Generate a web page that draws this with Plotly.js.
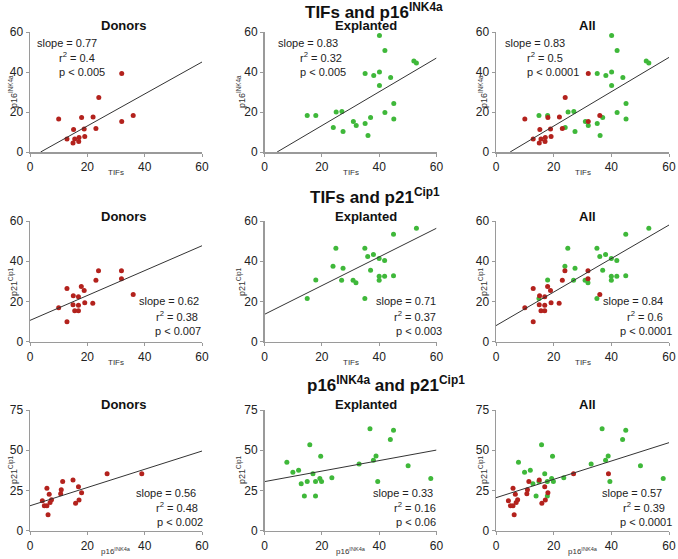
<!DOCTYPE html>
<html>
<head>
<meta charset="utf-8">
<script src="https://cdn.plot.ly/plotly-3.0.1.min.js"></script>
<style>html,body{margin:0;padding:0;background:#fff;}#chart{width:678px;height:559px;}</style>
</head>
<body>
<div id="chart"></div>
<script>
// ---- Row 1: TIFs vs p16INK4a ----
var donorTifs1 = [10, 12.9, 15.2, 15, 15.6, 17.1, 17, 18, 18.9, 19.1, 22, 23, 24, 32, 32, 36];
var donorP16_1 = [16.5, 6.5, 11.2, 4.5, 6.5, 7.3, 5.2, 17.3, 11.5, 7.8, 17.5, 11.8, 27.3, 39.3, 15.3, 18.3];
var explTifs1 = [14.9, 17.9, 24, 25, 27, 27.4, 31, 32, 35.1, 35.1, 36.1, 37, 38.1, 40.1, 40.1, 40.1, 42, 42, 44, 45.1, 45.1, 52.1, 53];
var explP16_1 = [18.3, 18.3, 12.3, 20, 20.3, 10.3, 15.3, 13.3, 14.3, 39.3, 8.3, 17.3, 38.3, 58.3, 40, 33.3, 50.7, 19.7, 37.3, 24.2, 16.5, 45.5, 44.5];

// ---- Row 2: TIFs vs p21Cip1 ----
var donorTifs2 = [10, 12.9, 12.9, 15.1, 15, 15.6, 16.9, 16.9, 16.9, 17.9, 18.9, 19.1, 21.9, 23, 23.9, 31.9, 31.9, 36];
var donorP21_2 = [16.9, 26.5, 9.9, 22.9, 18.4, 15.4, 22.4, 18.1, 15.4, 27.5, 25.5, 19.4, 19.1, 30.5, 35.3, 35.3, 31.3, 23.5];
var explTifs2 = [14.9, 17.9, 23.9, 24.9, 27.4, 26.9, 30.9, 31.9, 35, 35, 36, 37, 38, 40, 40, 40, 41.9, 41.9, 45, 45, 53];
var explP21_2 = [21.5, 30.7, 37.5, 46.4, 36.5, 30.5, 30.5, 29.3, 46.4, 21.5, 42.4, 35.5, 43.4, 41.4, 32.5, 30.5, 40.4, 32.5, 53.4, 32.8, 56.4];

// ---- Row 3: p16INK4a vs p21Cip1 ----
var donorP16_3 = [4.3, 5, 5.9, 5.9, 6.3, 6.7, 7, 7.5, 10.7, 10.9, 11.4, 15, 15.9, 16.9, 17.1, 18, 26.9, 39];
var donorP21_3 = [18.6, 15.5, 15.5, 26.3, 9.9, 22.6, 17.6, 19.3, 23, 25.5, 30.5, 31.5, 17, 27.3, 19.1, 23.6, 35.4, 35.4];
var explP16_3 = [7.8, 9.9, 11.9, 12.8, 13.9, 14.9, 15.8, 16.9, 17.8, 17.8, 19.3, 19.6, 19.9, 23.5, 33, 36.8, 38, 38.9, 39.5, 43.9, 45, 50.1, 58];
var explP21_3 = [42.5, 36.3, 37.5, 29.2, 21.5, 30.5, 53.4, 35.4, 30.5, 21.5, 32.5, 46.2, 30.5, 32.9, 41.4, 63.4, 43.7, 46.4, 30.5, 56.6, 62.4, 40.4, 32.5];

// ---- Regression lines (endpoints) ----
var fitX = [[3.7, 60], [4.4, 60], [4.9, 60], [0, 60], [0, 60], [0, 60], [0, 60], [0, 60], [0, 60]];
var fitY = [[0, 45], [0, 47], [0, 47.3], [10.6, 47.7], [13.6, 56.4], [8, 58], [15.5, 49.5], [30.5, 50.1], [20.5, 54.7]];

// ---- Stats text ----
var slopes = ["0.77", "0.83", "0.83", "0.62", "0.71", "0.84", "0.56", "0.33", "0.57"];
var rsq = ["0.4", "0.32", "0.5", "0.38", "0.37", "0.6", "0.48", "0.16", "0.39"];
var pvals = ["0.005", "0.005", "0.0001", "0.007", "0.003", "0.0001", "0.002", "0.06", "0.0001"];

var mainTitles = ["TIFs and p16<sup>INK4a</sup>", "TIFs and p21<sup>Cip1</sup>", "p16<sup>INK4a</sup> and p21<sup>Cip1</sup>"];
var subTitles = ["Donors", "Explanted", "All"];
var xTitles = ["TIFs", "TIFs", "p16<sup>INK4a</sup>"];
var yTitles = ["p16<sup>INK4a</sup>", "p21<sup>Cip1</sup>", "p21<sup>Cip1</sup>"];
var yMax = [60, 60, 75];
var yTicks = [[0, 20, 40, 60], [0, 20, 40, 60], [0, 25, 50, 75]];
var xTicks = [0, 20, 40, 60];

var W = 678, H = 559;
var RED = '#b3221d', GREEN = '#3fb83a';
var FONT = 'Liberation Sans, Arial, sans-serif';

// panel geometry in pixels
var colX = [[30, 202], [264.5, 436.5], [496, 669]];
var rowY = [[32, 152], [221, 341.7], [410, 530.7]];
function fx(p) { return p / W; }
function fy(p) { return 1 - p / H; }

var rowsData = [
  [[donorTifs1, donorP16_1], [explTifs1, explP16_1]],
  [[donorTifs2, donorP21_2], [explTifs2, explP21_2]],
  [[donorP16_3, donorP21_3], [explP16_3, explP21_3]]
];

var traces = [];
var layout = {
  width: W, height: H,
  margin: {l: 0, r: 0, t: 0, b: 0},
  paper_bgcolor: '#fff', plot_bgcolor: '#fff',
  showlegend: false,
  font: {family: FONT, color: '#222'},
  annotations: []
};

for (var r = 0; r < 3; r++) {
  for (var c = 0; c < 3; c++) {
    var idx = r * 3 + c + 1;
    var xa = 'x' + (idx === 1 ? '' : idx), ya = 'y' + (idx === 1 ? '' : idx);
    var sets = [];
    if (c === 0) sets = [[rowsData[r][0], RED]];
    else if (c === 1) sets = [[rowsData[r][1], GREEN]];
    else sets = [[rowsData[r][1], GREEN], [rowsData[r][0], RED]];
    sets.forEach(function (s) {
      traces.push({type: 'scatter', mode: 'markers', x: s[0][0], y: s[0][1], xaxis: xa, yaxis: ya,
        marker: {color: s[1], size: 5}, cliponaxis: false, hoverinfo: 'skip'});
    });
    traces.push({type: 'scatter', mode: 'lines', x: fitX[idx - 1], y: fitY[idx - 1], xaxis: xa, yaxis: ya,
      line: {color: '#333', width: 1}, hoverinfo: 'skip'});
    var axBase = {showgrid: false, zeroline: false, showline: true, linecolor: '#9a9a9a', linewidth: 1.5,
      ticks: 'outside', ticklen: 3, tickcolor: '#9a9a9a', tickfont: {size: 12, color: '#222'}, fixedrange: true};
    layout['xaxis' + (idx === 1 ? '' : idx)] = Object.assign({}, axBase, {
      domain: [fx(colX[c][0]), fx(colX[c][1])], range: [0, 60], tickvals: xTicks, anchor: ya
    });
    layout['yaxis' + (idx === 1 ? '' : idx)] = Object.assign({}, axBase, {
      domain: [fy(rowY[r][1]), fy(rowY[r][0])], range: [0, yMax[r]], tickvals: yTicks[r], anchor: xa
    });
  }
}

// axis titles as annotations
var xTitleY = [173, 362, 551];
var yTitleY = [92, 282, 470];
var yTitleX = [13, 241, 483];
for (var ra = 0; ra < 3; ra++) {
  for (var ca = 0; ca < 3; ca++) {
    layout.annotations.push({text: xTitles[ra], xref: 'paper', yref: 'paper', x: fx((colX[ca][0] + colX[ca][1]) / 2), y: fy(xTitleY[ra]),
      xanchor: 'center', yanchor: 'middle', showarrow: false, font: {size: 8, color: '#333', family: FONT}});
    layout.annotations.push({text: yTitles[ra], xref: 'paper', yref: 'paper', x: fx(yTitleX[ca]), y: fy(yTitleY[ra]),
      xanchor: 'center', yanchor: 'middle', textangle: -90, showarrow: false, font: {size: 9, color: '#333', family: FONT}});
  }
}

// main titles
var mainPos = [[374, 11], [375, 196], [386, 384]];
mainTitles.forEach(function (t, i) {
  layout.annotations.push({text: t, xref: 'paper', yref: 'paper', x: fx(mainPos[i][0]), y: fy(mainPos[i][1]),
    xanchor: 'center', yanchor: 'middle', showarrow: false, font: {size: 17, color: '#111', family: FONT, weight: 'bold'}});
});
// subtitles
var subX = [124, 366, 587];
var subY = [26, 216, 404];
for (var r2 = 0; r2 < 3; r2++) {
  for (var c2 = 0; c2 < 3; c2++) {
    layout.annotations.push({text: '<b>' + subTitles[c2] + '</b>', xref: 'paper', yref: 'paper', x: fx(subX[c2]), y: fy(subY[r2]),
      xanchor: 'center', yanchor: 'middle', showarrow: false, font: {size: 13, color: '#111', family: FONT}});
  }
}
// stats
var statFont = {size: 11, color: '#222', family: FONT};
// row 1: left
var row1Slope = [35, 276, 503], row1Rest = [57, 298, 525];
for (var k = 0; k < 3; k++) {
  layout.annotations.push({text: 'slope = ' + slopes[k], xref: 'paper', yref: 'paper', x: fx(row1Slope[k]), y: fy(43), xanchor: 'left', yanchor: 'middle', showarrow: false, font: statFont});
  layout.annotations.push({text: 'r<sup>2</sup> = ' + rsq[k], xref: 'paper', yref: 'paper', x: fx(row1Rest[k]), y: fy(57), xanchor: 'left', yanchor: 'middle', showarrow: false, font: statFont});
  layout.annotations.push({text: 'p &lt; ' + pvals[k], xref: 'paper', yref: 'paper', x: fx(row1Rest[k]), y: fy(72), xanchor: 'left', yanchor: 'middle', showarrow: false, font: statFont});
}
// rows 2-3: right aligned
var rightEdges = [
  [[201, 200, 203], [438, 438, 444], [665, 665, 674]],
  [[198, 200, 205], [435, 438, 438], [664, 667, 674]]
];
var rightY = [[301, 315.5, 331], [493, 507, 522]];
for (var rr = 0; rr < 2; rr++) {
  for (var cc = 0; cc < 3; cc++) {
    var i2 = (rr + 1) * 3 + cc;
    var e = rightEdges[rr][cc], yy = rightY[rr];
    layout.annotations.push({text: 'slope = ' + slopes[i2], xref: 'paper', yref: 'paper', x: fx(e[0]), y: fy(yy[0]), xanchor: 'right', yanchor: 'middle', showarrow: false, font: statFont});
    layout.annotations.push({text: 'r<sup>2</sup> = ' + rsq[i2], xref: 'paper', yref: 'paper', x: fx(e[1]), y: fy(yy[1]), xanchor: 'right', yanchor: 'middle', showarrow: false, font: statFont});
    layout.annotations.push({text: 'p &lt; ' + pvals[i2], xref: 'paper', yref: 'paper', x: fx(e[2]), y: fy(yy[2]), xanchor: 'right', yanchor: 'middle', showarrow: false, font: statFont});
  }
}

Plotly.newPlot('chart', traces, layout, {displayModeBar: false, staticPlot: true});
</script>
</body>
</html>
